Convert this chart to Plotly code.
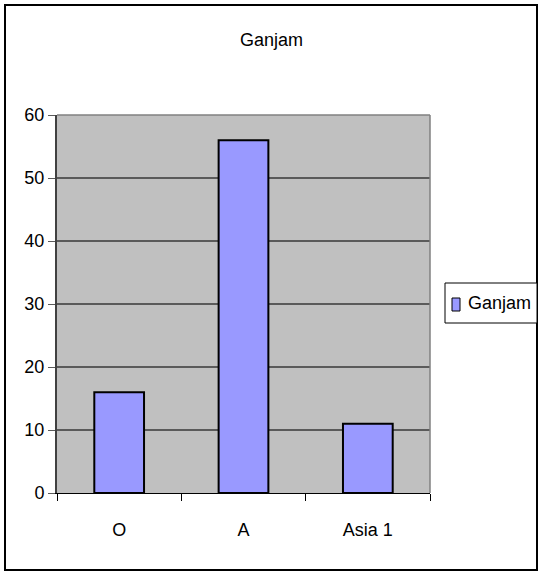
import plotly.graph_objects as go

categories = ["O", "A", "Asia 1"]
values = [16, 56, 11]
series_name = "Ganjam"
y_ticks = [0, 10, 20, 30, 40, 50, 60]

FONT = "Liberation Sans Narrow, Arial Narrow, Liberation Sans, Arial, sans-serif"
FS = 18
BAR_FILL = "#9999FF"

W, H = 543, 576
L, R, T, B = 57, 113, 115, 83
pw, ph = W - L - R, H - T - B


def px_x(px):
    return (px - L) / pw


def px_y(py):
    return (H - B - py) / ph


fig = go.Figure(
    go.Bar(
        x=categories,
        y=values,
        name=series_name,
        marker=dict(color=BAR_FILL, line=dict(color="#000000", width=2)),
        showlegend=False,
    )
)

fig.update_layout(
    width=W,
    height=H,
    margin=dict(l=L, r=R, t=T, b=B, autoexpand=False),
    paper_bgcolor="white",
    plot_bgcolor="#C0C0C0",
    bargap=0.6,
    font=dict(family=FONT, size=FS, color="black"),
    title=dict(
        text=series_name,
        x=0.5,
        xref="container",
        xanchor="center",
        y=1 - 40 / H,
        yanchor="middle",
        font=dict(family=FONT, size=FS, color="black"),
    ),
    showlegend=False,
    xaxis=dict(
        showgrid=False,
        showline=True,
        linecolor="#000000",
        linewidth=1,
        ticks="outside",
        tickson="boundaries",
        ticklen=7,
        tickcolor="#000000",
        ticklabelstandoff=20,
        mirror=False,
    ),
    yaxis=dict(
        range=[0, 60],
        tickvals=y_ticks,
        showgrid=True,
        gridcolor="#5a5a5a",
        gridwidth=1.5,
        showline=True,
        linecolor="#404040",
        linewidth=2,
        ticks="outside",
        ticklen=7,
        tickcolor="#5a5a5a",
        zeroline=False,
    ),
    shapes=[
        # plot-area frame on the top and right
        dict(type="line", xref="paper", yref="paper", x0=0, x1=1, y0=1, y1=1,
             line=dict(color="#808080", width=1.5)),
        dict(type="line", xref="paper", yref="paper", x0=1, x1=1, y0=0, y1=1,
             line=dict(color="#808080", width=1.5)),
        # outer chart border
        dict(type="rect", xref="paper", yref="paper",
             x0=px_x(5), x1=px_x(537), y0=px_y(570), y1=px_y(5),
             line=dict(color="black", width=2), layer="below"),
        # compact legend box with its swatch
        dict(type="rect", xref="paper", yref="paper",
             x0=px_x(445), x1=px_x(537), y0=px_y(323), y1=px_y(283),
             line=dict(color="black", width=1), fillcolor="white"),
        dict(type="rect", xref="paper", yref="paper",
             x0=px_x(452), x1=px_x(460), y0=px_y(311), y1=px_y(298),
             line=dict(color="black", width=1), fillcolor=BAR_FILL),
    ],
    annotations=[
        dict(text=series_name, xref="paper", yref="paper",
             x=px_x(466), y=px_y(303), xanchor="left", yanchor="middle",
             showarrow=False, font=dict(family=FONT, size=FS, color="black")),
    ],
)

fig.write_html("out.html")
